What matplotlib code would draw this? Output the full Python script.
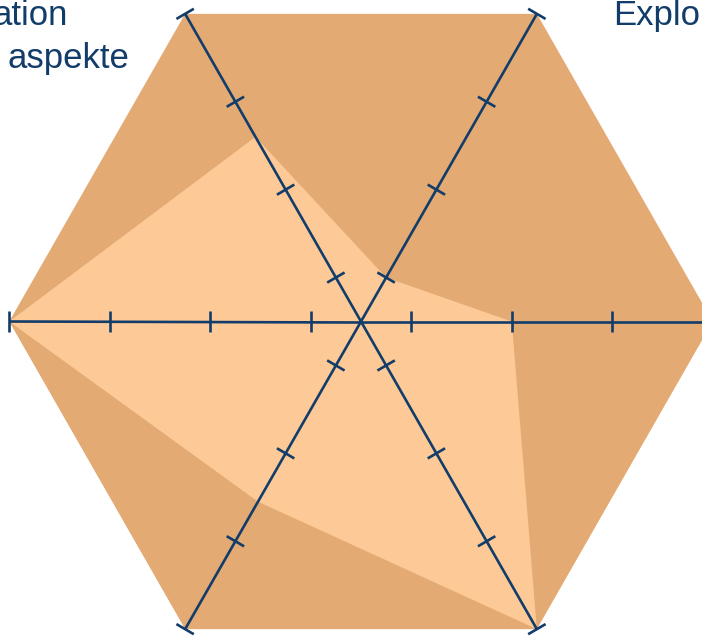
import numpy as np
import matplotlib
matplotlib.use("Agg")
import matplotlib.pyplot as plt

# six axes of the radar, counter-clockwise from the right
axis_angles = [0, 60, 120, 180, 240, 300]
max_values = [4, 4, 4, 4, 4, 4]
values = [2.0, 1.0, 2.6, 4.0, 2.55, 4.0]
ticks = [1, 2, 3, 4]
r_min = 0.5

label_left_1 = "ation"
label_left_2 = "aspekte"
label_right = "Explo"

navy = "#123C69"
dark_fill = "#E3AA73"
light_fill = "#FDC996"

W, H = 702, 644


def to_xy(angle_deg, v):
    a = np.deg2rad(angle_deg)
    r = np.asarray(v, dtype=float) - r_min
    return r * np.cos(a), r * np.sin(a)


fig = plt.figure(figsize=(W / 100, H / 100), dpi=100)
ax = fig.add_axes([0, 0, 1, 1])
# chart centre at (361, 321.5) px, ~100.5 px per unit across, 101.5 px up
ax.set_xlim(-361 / 100.5, (W - 361) / 100.5)
ax.set_ylim(-(H - 321.5) / 101.5, 321.5 / 101.5)
ax.axis("off")

ang = np.array(axis_angles)
mx, my = to_xy(ang, max_values)
ax.fill(mx, my, color=dark_fill, lw=0, zorder=1)
vx, vy = to_xy(ang, values)
ax.fill(vx, vy, color=light_fill, lw=0, zorder=2)

# axis lines with tick marks
for a in axis_angles:
    ex, ey = to_xy(a, max(ticks))
    ax.plot([0, ex], [0, ey], color=navy, lw=1.9, zorder=3,
            solid_capstyle="butt", clip_on=False)
    px, py = -np.sin(np.deg2rad(a)), np.cos(np.deg2rad(a))
    for t in ticks:
        tx, ty = to_xy(a, t)
        ax.plot([tx - 0.1 * px, tx + 0.1 * px], [ty - 0.1 * py, ty + 0.1 * py],
                color=navy, lw=1.9, zorder=3, solid_capstyle="butt",
                clip_on=False)

fs = 25
fig.text(68 / W, 1 - 25 / H, label_left_1, ha="right", va="baseline",
         fontsize=fs, color=navy, family="Liberation Sans")
fig.text(129 / W, 1 - 68 / H, label_left_2, ha="right", va="baseline",
         fontsize=fs, color=navy, family="Liberation Sans")
fig.text(613 / W, 1 - 25 / H, label_right, ha="left", va="baseline",
         fontsize=fs, color=navy, family="Liberation Sans")

fig.savefig("out.png", dpi=100)
